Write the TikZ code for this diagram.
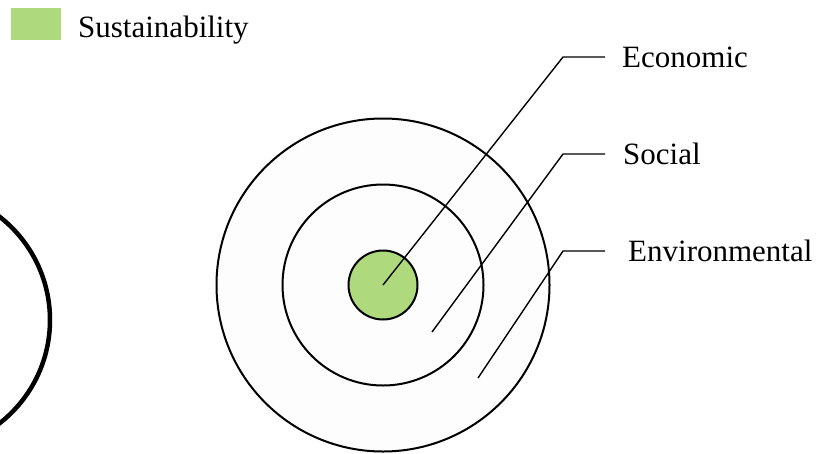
\documentclass[tikz,border=0pt]{standalone}
\usepackage{fontspec}
\setmainfont{Liberation Serif}
\usepackage{xcolor}
\usetikzlibrary{positioning}

\definecolor{sgreen}{HTML}{AED97C}
\definecolor{ringfill}{HTML}{FDFDFD}

\begin{document}
\begin{tikzpicture}[
  x=1pt, y=-1pt,
  ring/.style={circle, draw=black, line width=2pt, fill=ringfill, inner sep=0pt},
  core/.style={circle, draw=black, line width=2pt, fill=sgreen, inner sep=0pt, minimum size=69pt},
  bigring/.style={circle, draw=black, line width=4.5pt, inner sep=0pt, minimum size=262pt},
  lbl/.style={inner sep=0pt, font=\fontsize{31}{37}\selectfont},
  leader/.style={line width=1.4pt}
]
  \useasboundingbox (0,0) rectangle (826,453);
  \clip (0,0) rectangle (826,453);

  % legend
  \node[fill=sgreen, minimum width=50pt, minimum height=32pt, inner sep=0pt] (key) at (36,24) {};
  \node[lbl, anchor=base west] (keytext) at (78,37) {Sustainability};

  % circle cut by the left edge
  \node[bigring] (leftring) at (-81,320) {};

  % the three rings
  \node[ring, minimum size=333pt] (envring) at (383,285) {};
  \node[ring, minimum size=201pt] (socring) at (383,285) {};
  \node[core] (ecocore) at (383,285) {};

  % leader ends
  \coordinate (socpt) at (432,332);
  \coordinate (envpt) at (478,378);
  \coordinate (ecobend) at (563,57);
  \coordinate (socbend) at (563,154);
  \coordinate (envbend) at (563,251);
  \coordinate (ecoend) at (605,57);
  \coordinate (socend) at (605,154);
  \coordinate (envend) at (605,251);

  % labels
  \node[lbl, anchor=west, right=17pt of ecoend] (ecolbl) {Economic};
  \node[lbl, anchor=west, right=18pt of socend] (soclbl) {Social};
  \node[lbl, anchor=west, right=23pt of envend] (envlbl) {Environmental};

  \draw[leader] (ecocore.center) -- (ecobend) -- (ecoend);
  \draw[leader] (socpt) -- (socbend) -- (socend);
  \draw[leader] (envpt) -- (envbend) -- (envend);
\end{tikzpicture}
\end{document}
